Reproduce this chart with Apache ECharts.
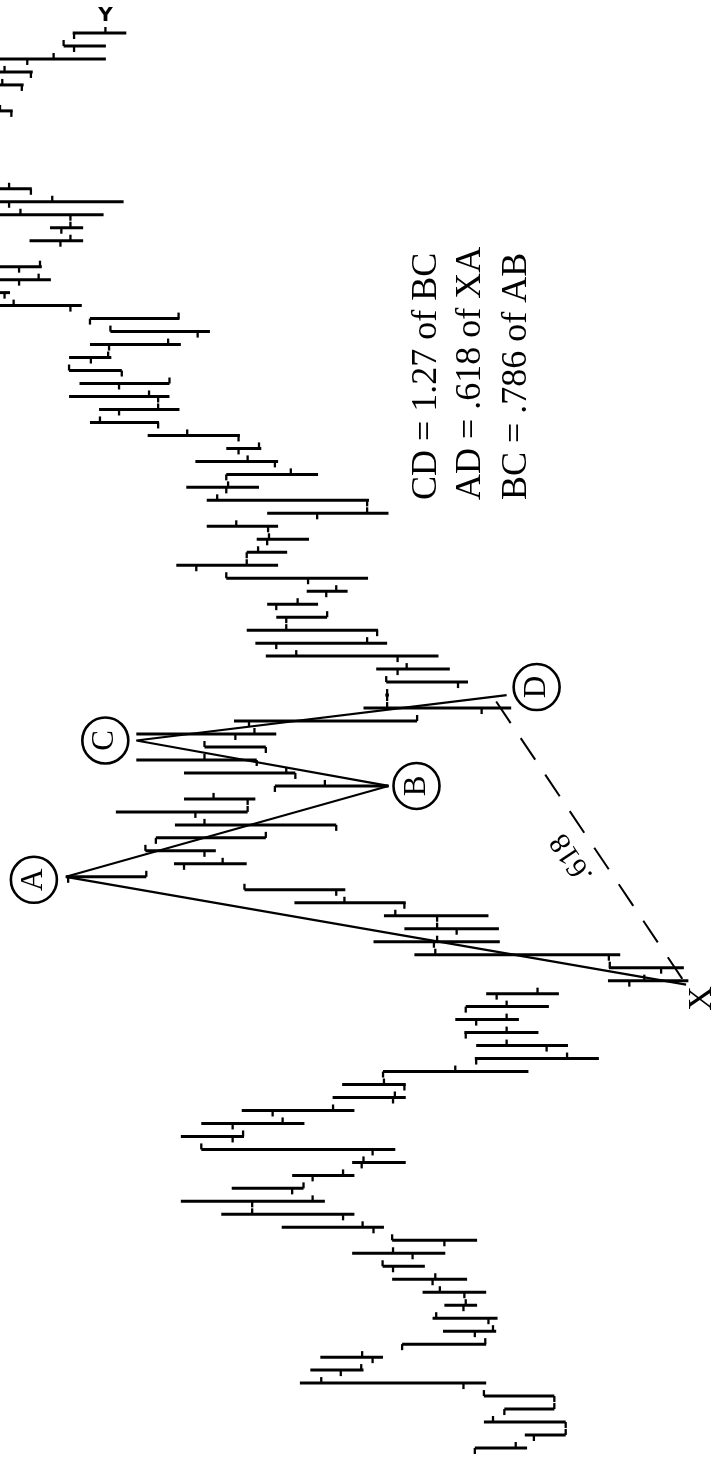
<!DOCTYPE html>
<html>
<head>
<meta charset="utf-8">
<style>
  html, body { margin: 0; padding: 0; background: #fff; }
  #chart { width: 727px; height: 1459px; }
</style>
<script src="https://cdn.jsdelivr.net/npm/echarts@6/dist/echarts.min.js"></script>
</head>
<body>
<div id="chart"></div>
<script>
// bar index (time, runs bottom -> top in the rotated picture)
const barTime = [
  0, 1, 2, 3, 4, 5, 6, 7, 8, 9, 10, 11, 12, 13, 14, 15, 16, 17, 18, 19,
  20, 21, 22, 23, 24, 25, 26, 27, 28, 29, 30, 31, 32, 33, 34, 35, 36, 37, 38, 39,
  40, 41, 42, 43, 44, 45, 46, 47, 48, 49, 50, 51, 52, 53, 54, 55, 56, 57, 58, 59,
  60, 61, 62, 63, 64, 65, 66, 67, 68, 69, 70, 71, 72, 73, 74, 75, 76, 77, 78, 79,
  80, 81, 82, 83, 84, 85, 86, 87, 88, 89, 90, 91, 93, 94, 95, 96, 97, 103, 105, 106,
  107, 108, 109
];
const barHigh = [
  55.5, 44.5, 53.5, 49.0, 53.5, 94.0, 91.7, 89.5, 71.5, 62.5,
  64.8, 62.2, 67.0, 73.7, 75.8, 82.5, 73.7, 98.0, 111.3, 120.2,
  109.0, 95.7, 82.5, 115.7, 120.2, 115.7, 106.8, 86.8, 84.7, 75.7,
  55.5, 55.2, 57.8, 59.8, 57.5, 53.0, 26.2, 26.0, 68.8, 77.8,
  71.0, 75.5, 95.2, 106.2, 145.5, 121.7, 128.0, 125.7, 121.5, 134.5,
  119.5, 99.5, 119.5, 130.0, 115.0, 130.0, 108.5, 80.0, 75.2, 75.0,
  77.2, 101.5, 103.8, 105.7, 99.2, 101.2, 92.5, 110.2, 121.2, 105.7,
  103.5, 114.5, 101.2, 114.5, 119.0, 110.2, 117.0, 110.2, 127.5, 140.2,
  138.2, 144.8, 142.5, 144.8, 144.8, 140.2, 135.7, 140.2, 160.5, 163.0,
  160.5, 160.5, 153.5, 149.0, 160.5, 160.5, 161.0, 161.0, 161.0, 161.0,
  160.5, 146.0, 144.0
];
const barLow = [
  44.0, 35.5, 35.5, 38.0, 38.0, 53.0, 80.0, 75.7, 53.0, 50.8,
  50.5, 55.0, 53.0, 57.2, 66.5, 62.0, 55.0, 75.5, 82.0, 88.5,
  93.2, 82.0, 70.7, 73.0, 106.3, 93.0, 82.0, 70.7, 70.7, 43.7,
  28.2, 35.0, 41.5, 45.8, 39.2, 37.0, 8.5, 9.5, 23.5, 50.0,
  50.2, 52.5, 70.7, 84.0, 127.8, 105.7, 112.5, 101.5, 86.0, 105.5,
  103.8, 74.5, 95.0, 103.5, 101.5, 99.2, 68.2, 47.5, 74.4, 57.0,
  61.0, 63.5, 74.8, 76.8, 88.0, 90.0, 83.5, 79.0, 98.8, 96.8,
  92.0, 98.8, 74.5, 78.8, 103.0, 90.0, 98.8, 102.5, 107.2, 125.0,
  120.5, 122.7, 122.7, 133.2, 135.5, 120.2, 113.8, 120.5, 142.0, 157.8,
  148.8, 150.8, 141.7, 141.7, 137.2, 132.8, 153.0, 157.2, 154.8, 152.8,
  136.7, 136.7, 132.2
];
const barOpen = [
  55.5, 42.5, 35.5, 49.0, 38.0, 58.0, 85.0, 78.0, 71.5, 55.5,
  52.5, 58.0, 57.8, 64.8, 73.5, 69.2, 62.2, 77.8, 84.5, 104.5,
  95.7, 91.2, 80.4, 78.0, 108.8, 108.8, 100.0, 73.5, 71.0, 75.7,
  55.2, 39.7, 57.5, 55.2, 57.5, 50.7, 21.5, 14.5, 26.0, 64.5,
  59.5, 63.8, 71.0, 86.0, 145.0, 119.5, 115.0, 125.7, 86.0, 117.0,
  105.5, 99.5, 95.0, 103.5, 101.5, 108.2, 105.2, 54.0, 74.8, 59.2,
  72.5, 72.5, 99.2, 77.0, 97.0, 99.2, 88.2, 92.2, 116.8, 105.7,
  101.2, 101.0, 90.2, 79.2, 110.2, 110.2, 99.5, 107.5, 107.5, 125.2,
  133.8, 125.2, 133.8, 133.2, 140.0, 136.0, 116.5, 140.2, 144.5, 159.0,
  155.8, 155.8, 146.7, 146.5, 144.5, 158.0, 153.2, 157.5, 155.2, 153.2,
  154.0, 143.7, 143.7
];
const barClose = [
  46.5, 35.5, 51.5, 38.0, 53.5, 89.3, 80.5, 80.3, 53.2, 51.5,
  64.0, 57.5, 63.2, 64.2, 75.8, 73.5, 73.7, 80.2, 104.5, 91.2,
  93.2, 84.5, 80.0, 115.7, 106.5, 97.8, 86.7, 73.1, 75.5, 59.8,
  35.2, 48.5, 48.5, 48.5, 48.5, 41.7, 18.2, 25.8, 64.2, 63.8,
  63.8, 73.0, 84.2, 106.2, 127.8, 111.0, 128.0, 101.5, 115.0, 105.5,
  113.0, 88.5, 97.0, 115.0, 115.0, 104.0, 68.2, 74.8, 74.8, 75.0,
  70.5, 94.8, 79.2, 97.0, 88.0, 94.5, 86.0, 110.2, 105.7, 103.2,
  100.8, 108.0, 79.2, 112.2, 109.8, 96.0, 105.5, 103.0, 118.8, 138.0,
  125.2, 127.2, 122.7, 144.8, 136.2, 123.0, 135.7, 120.7, 157.0, 161.0,
  151.5, 151.2, 144.5, 144.5, 155.5, 148.5, 158.0, 160.0, 159.5, 159.0,
  148.2, 146.0, 136.8
];

// XABCD pattern points: [price, time]
const patternNames = ['X', 'A', 'B', 'C', 'D'];
const patternPrice = [9.0, 145.5, 74.5, 130.0, 48.5];
const patternTime = [35.7, 44, 51, 54.5, 58];
// dashed X-D retracement line
const dashPrice = [50.8, 9.0];
const dashTime = [57.5, 35.7];

const noteLines = ['CD = 1.27 of BC', 'AD = .618 of XA', 'BC = .786 of AB'];

const barData = barTime.map((t, i) => [t, barHigh[i], barLow[i], barOpen[i], barClose[i]]);

const chart = echarts.init(document.getElementById('chart'));

const TICK = 6;
function renderBar(params, api) {
  const t = api.value(0);
  const hi = api.coord([api.value(1), t]);
  const lo = api.coord([api.value(2), t]);
  const op = api.coord([api.value(3), t]);
  const cl = api.coord([api.value(4), t]);
  const tickStyle = { stroke: '#000', lineWidth: 2.3 };
  return {
    type: 'group',
    children: [
      { type: 'line', shape: { x1: hi[0], y1: hi[1], x2: lo[0], y2: lo[1] }, style: { stroke: '#000', lineWidth: 3 } },
      // open tick (earlier side = below), close tick (later side = above)
      { type: 'line', shape: { x1: op[0], y1: op[1], x2: op[0], y2: op[1] + TICK }, style: tickStyle },
      { type: 'line', shape: { x1: cl[0], y1: cl[1], x2: cl[0], y2: cl[1] - TICK }, style: tickStyle }
    ]
  };
}

chart.setOption({
  animation: false,
  backgroundColor: '#fff',
  grid: { left: 0, top: 33, width: 742, height: 1415 },
  xAxis: { type: 'value', min: 0, max: 160, inverse: true, show: false },
  yAxis: { type: 'value', min: 0, max: 109, show: false },
  series: [
    {
      type: 'custom',
      renderItem: renderBar,
      data: barData,
      encode: { x: [1, 2, 3, 4], y: 0 },
      clip: false
    },
    {
      type: 'line',
      data: patternPrice.map((p, i) => [p, patternTime[i]]),
      symbol: 'none',
      lineStyle: { color: '#000', width: 2.2 },
      z: 3
    },
    {
      type: 'line',
      data: dashPrice.map((p, i) => [p, dashTime[i]]),
      symbol: 'none',
      lineStyle: { color: '#000', width: 2, type: [26, 18] },
      z: 3
    }
  ]
});

// annotation labels placed relative to the pattern points
const labelOffset = { X: [16, 14], A: [-32, 3], B: [28, 0], C: [-31, 0], D: [30, -8] };
const graphics = [];
patternNames.forEach((name, i) => {
  const pt = chart.convertToPixel({ gridIndex: 0 }, [patternPrice[i], patternTime[i]]);
  const cx = pt[0] + labelOffset[name][0];
  const cy = pt[1] + labelOffset[name][1];
  if (name !== 'X') {
    graphics.push({
      type: 'circle', shape: { cx: cx, cy: cy, r: 23 },
      style: { fill: '#fff', stroke: '#000', lineWidth: 2.6 }, z: 10
    });
  }
  graphics.push({
    type: 'text', x: cx, y: cy, rotation: Math.PI / 2, z: 11,
    style: {
      text: name, font: (name === 'X' ? '34px' : '31px') + ' "Liberation Serif"', fill: '#000',
      textAlign: 'center', textVerticalAlign: 'middle', align: 'center', verticalAlign: 'middle'
    }
  });
});

// the three ratio notes, written sideways
const noteX = [427, 471, 517];
noteLines.forEach((txt, i) => {
  graphics.push({
    type: 'text', x: noteX[i], y: 500, rotation: Math.PI / 2, z: 11,
    style: {
      text: txt, font: '36px "Liberation Serif"', fill: '#000',
      textAlign: 'left', textVerticalAlign: 'middle', align: 'left', verticalAlign: 'middle'
    }
  });
});

// .618 along the dashed line
graphics.push({
  type: 'text', x: 572, y: 858, rotation: 2.16, z: 11,
  style: {
    text: '.618', font: '30px "Liberation Serif"', fill: '#000',
    textAlign: 'center', textVerticalAlign: 'middle', align: 'center', verticalAlign: 'middle'
  }
});

// the little mark above the last bar
const last = barTime.length - 1;
const topPt = chart.convertToPixel({ gridIndex: 0 }, [barClose[last], barTime[last]]);
graphics.push({
  type: 'text', x: topPt[0], y: topPt[1] - 17, z: 11,
  style: {
    text: 'Y', font: 'bold 20px "DejaVu Sans"', fill: '#000',
    textAlign: 'center', textVerticalAlign: 'middle', align: 'center', verticalAlign: 'middle'
  }
});

chart.setOption({ graphic: graphics });
</script>
</body>
</html>
